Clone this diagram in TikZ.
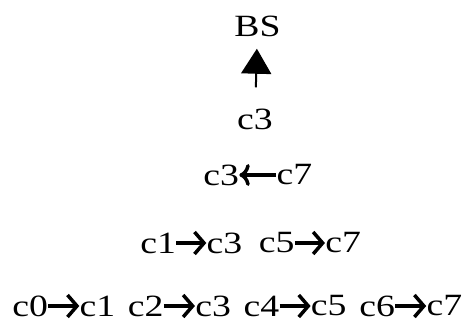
\documentclass[tikz,border=0pt]{standalone}
\usepackage{fontspec}
\setmainfont[FakeStretch=1.22]{Liberation Serif}
\usetikzlibrary{arrows.meta}
\usetikzlibrary{positioning}

\begin{document}
\begin{tikzpicture}[
    txt/.style={inner sep=0pt, font=\fontsize{17.6}{20}\selectfont},
    link/.style={line width=0.07cm, -{Straight Barb[length=0.19cm, width=0.44cm]}},
    up/.style={line width=0.04cm, -{Triangle[length=0.5cm, width=0.6cm]}}]
    \useasboundingbox (0,0) rectangle (9.32,-6.44);

    % top: base station and the last head
    \node[txt] (BS) at (5.15,-0.52) {BS};
    \node[txt] (s3) at (5.1,-2.38) {c3};
    \draw[up, shorten <=0.42cm, shorten >=0.24cm] (s3) -- (BS);

    % third row
    \node[txt, anchor=west] (t3) at (4.06,-3.5) {c3};
    \node[txt] (t7) [right=0.74cm of t3] {c7};
    \draw[link, <-] (t3) -- (t7);

    % second row
    \node[txt, anchor=west] (m1) at (2.8,-4.86) {c1};
    \node[txt] (m3) [right=0.6cm of m1] {c3};
    \node[txt] (m5) [right=0.32cm of m3] {c5};
    \node[txt] (m7) [right=0.6cm of m5] {c7};
    \draw[link] (m1) -- (m3);
    \draw[link] (m5) -- (m7);

    % bottom row
    \node[txt, anchor=west] (b0) at (0.24,-6.12) {c0};
    \node[txt] (b1) [right=0.62cm of b0] {c1};
    \node[txt] (b2) [right=0.24cm of b1] {c2};
    \node[txt] (b3) [right=0.62cm of b2] {c3};
    \node[txt] (b4) [right=0.24cm of b3] {c4};
    \node[txt] (b5) [right=0.62cm of b4] {c5};
    \node[txt] (b6) [right=0.24cm of b5] {c6};
    \node[txt] (b7) [right=0.62cm of b6] {c7};
    \draw[link] (b0) -- (b1);
    \draw[link] (b2) -- (b3);
    \draw[link] (b4) -- (b5);
    \draw[link] (b6) -- (b7);
\end{tikzpicture}
\end{document}
